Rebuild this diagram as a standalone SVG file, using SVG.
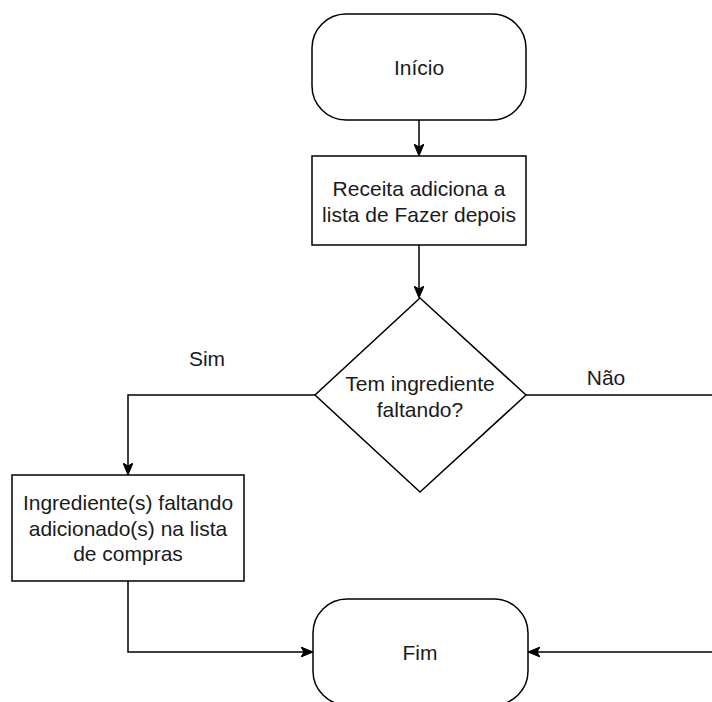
<svg xmlns="http://www.w3.org/2000/svg" width="712" height="702" viewBox="0 0 712 702">
<style>
.shape{fill:#ffffff;stroke:#000000;stroke-width:1.5}
.edge{fill:none;stroke:#000000;stroke-width:1.5}
text{font-family:"Liberation Sans",Arial,sans-serif;font-size:21px;fill:#1a1a1a;text-anchor:middle;dominant-baseline:central}
</style>
<defs>
<marker id="arr" viewBox="0 0 12 10" refX="11" refY="5" markerWidth="12" markerHeight="10" markerUnits="userSpaceOnUse" orient="auto">
<path d="M0,0 L12,5 L0,10 L3,5 Z" fill="#000000" stroke="#000000" stroke-width="1"/>
</marker>
</defs>
<g id="connectors">
<path class="edge" d="M419,120 L419,155" marker-end="url(#arr)"/>
<path class="edge" d="M419,245 L419,297" marker-end="url(#arr)"/>
<path class="edge" d="M315,395 L128,395 L128,474" marker-end="url(#arr)"/>
<path class="edge" d="M526,395 L712,395"/>
<path class="edge" d="M128,581 L128,652 L312,652" marker-end="url(#arr)"/>
<path class="edge" d="M712,652 L529,652" marker-end="url(#arr)"/>
<text x="207" y="358">Sim</text>
<text x="606" y="377">Não</text>
</g>
<g id="inicio">
<rect class="shape" x="312" y="14" width="214" height="106" rx="34" ry="34"/>
<text x="419" y="67">Início</text>
</g>
<g id="receita">
<rect class="shape" x="312" y="156" width="214" height="89"/>
<text x="419" y="188">Receita adiciona a</text>
<text x="419" y="214">lista de Fazer depois</text>
</g>
<g id="decisao">
<polygon class="shape" points="420,298 526,395 420,492 315,395"/>
<text x="420" y="383">Tem ingrediente</text>
<text x="420" y="409">faltando?</text>
</g>
<g id="compras">
<rect class="shape" x="12" y="475" width="232" height="106"/>
<text x="128" y="502">Ingrediente(s) faltando</text>
<text x="128" y="528">adicionado(s) na lista</text>
<text x="128" y="553">de compras</text>
</g>
<g id="fim">
<rect class="shape" x="313" y="599" width="215" height="106" rx="34" ry="34"/>
<text x="420" y="652">Fim</text>
</g>
</svg>
